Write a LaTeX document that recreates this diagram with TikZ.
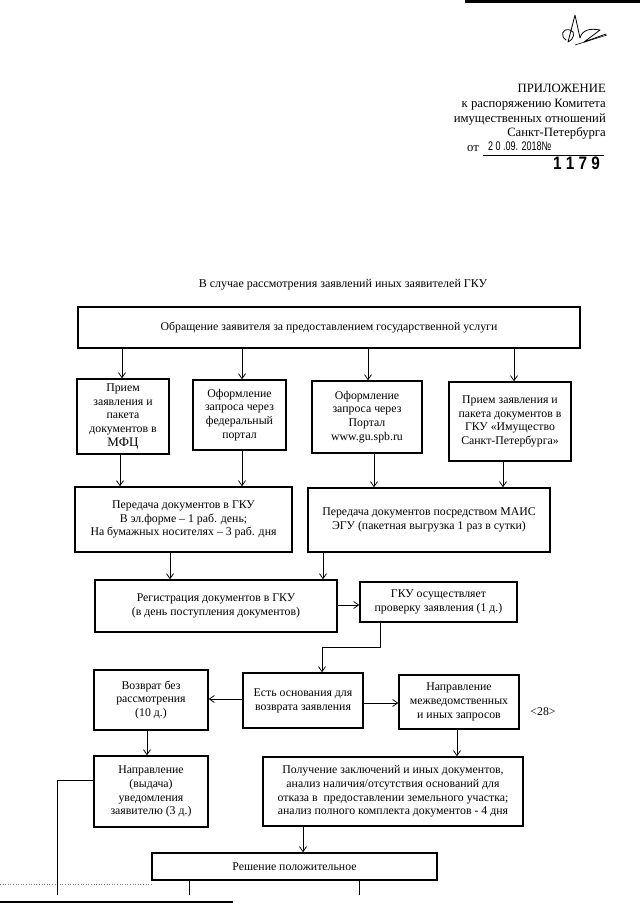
\documentclass[tikz,border=0pt]{standalone}
\usepackage{fontspec}
\setmainfont{Liberation Serif}
\newfontfamily\stampfont{Liberation Sans}
\usetikzlibrary{arrows.meta}
\newcommand{\fs}{\fontsize{11.8}{13.8}\selectfont}
\newcommand{\hs}{\fontsize{12.7}{14.5}\selectfont}
\tikzset{
  box/.style={draw, line width=1.5pt, align=center, inner sep=1pt, font=\fs},
  conn/.style={line width=0.75pt},
  arr/.style={conn, -{Straight Barb[length=5pt,width=7pt]}},
  hdr/.style={anchor=base east, inner sep=0pt, font=\hs},
}
\newcommand{\bx}[6]{\node[box, minimum width={#4-#2}, minimum height={#5-#3}] (#1) at ({(#2+#4)/2},{(#3+#5)/2}) {#6};}
\begin{document}
\begin{tikzpicture}[x=1pt,y=-1pt]
\useasboundingbox (0,0) rectangle (640,905);
\fill[white] (0,0) rectangle (640,905);
% scan edges
\draw[line width=3pt] (465,1.5) -- (640,1.5);
\draw[line width=2.5pt] (0,902) -- (233,902);
\draw[gray, dotted, line width=0.6pt] (0,884) -- (152,884);
% signature
\draw[line width=0.8pt, line cap=round, line join=round]
  (566,40) .. controls (560,36) and (562,28) .. (570,30)
  .. controls (576,31) and (574,40) .. (568,42)
  -- (575,15) -- (580,38)
  .. controls (582,30) and (590,28) .. (600,30)
  -- (584,42) -- (606,34);
\draw[line width=0.6pt] (575,45) -- (607,35);
% header
\node[hdr] (h1) at (606,92) {ПРИЛОЖЕНИЕ};
\node[hdr] (h2) at (606,107) {к распоряжению Комитета};
\node[hdr] (h3) at (606,122) {имущественных отношений};
\node[hdr] (h4) at (606,136) {Санкт-Петербурга};
\node[anchor=base west, inner sep=0pt, font=\hs] (h5) at (467,151) {от};
\node[anchor=base west, inner sep=0pt] (h6) at (488,150) {\stampfont\fontsize{12.5}{13}\selectfont\scalebox{0.72}[1]{2 0 .09. 2018№}};
\draw[line width=0.7pt] (483,155) -- (604,155);
\node[anchor=base east, inner sep=0pt] (h7) at (600,169) {\stampfont\bfseries\fontsize{18}{19}\selectfont\scalebox{0.85}[1]{1 1 7 9}};
% title
\node[font=\fontsize{12}{14}\selectfont] (title) at (343,285) {В случае рассмотрения заявлений иных заявителей ГКУ};
% boxes
\bx{b0}{78}{307}{580}{348}{Обращение заявителя за предоставлением государственной услуги}
\bx{A}{77}{379}{169}{454}{Прием\\заявления и\\пакета\\документов в\\{\fontsize{13}{14}\selectfont МФЦ}}
\bx{B}{193}{380}{286}{450}{Оформление\\запроса через\\федеральный\\портал}
\bx{C}{312}{381}{422}{453}{Оформление\\запроса через\\Портал\\www.gu.spb.ru}
\bx{D}{449}{382}{571}{461}{Прием заявления и\\пакета документов в\\ГКУ «Имущество\\Санкт-Петербурга»}
\bx{E}{75}{487}{292}{552}{Передача документов в ГКУ\\В эл.форме – 1 раб. день;\\На бумажных носителях – 3 раб. дня}
\bx{F}{308}{488}{550}{552}{Передача документов посредством МАИС\\ЭГУ (пакетная выгрузка 1 раз в сутки)}
\bx{G}{95}{580}{337}{632}{Регистрация документов в ГКУ\\(в день поступления документов)}
\bx{H}{360}{582}{517}{622}{ГКУ осуществляет\\проверку заявления (1 д.)}
\bx{I}{243}{673}{363}{728}{Есть основания для\\возврата заявления}
\bx{J}{94}{670}{208}{730}{Возврат без\\рассмотрения\\(10 д.)}
\bx{K}{399}{675}{519}{729}{Направление\\межведомственных\\и иных запросов}
\node[font=\fs, inner sep=0pt] (n28) at (543,712) {<28>};
\bx{L}{94}{756}{208}{827}{Направление\\(выдача)\\уведомления\\заявителю (3 д.)}
\bx{M}{263}{757}{523}{826}{Получение заключений и иных документов,\\анализ наличия/отсутствия оснований для\\отказа в~~предоставлении земельного участка;\\анализ полного комплекта документов - 4 дня}
\bx{N}{152}{853}{437}{880}{Решение положительное}
% connectors
\draw[arr] (b0.south -| 122,0) -- (A.north -| 122,0);
\draw[arr] (b0.south -| 242,0) -- (B.north -| 242,0);
\draw[arr] (b0.south -| 368,0) -- (C.north -| 368,0);
\draw[arr] (b0.south -| 514,0) -- (D.north -| 514,0);
\draw[arr] (A.south -| 120,0) -- (E.north -| 120,0);
\draw[arr] (B.south -| 242,0) -- (E.north -| 242,0);
\draw[arr] (C.south -| 374,0) -- (F.north -| 374,0);
\draw[arr] (D.south -| 503,0) -- (F.north -| 503,0);
\draw[arr] (E.south -| 170,0) -- (G.north -| 170,0);
\draw[arr] (F.south -| 323,0) -- (G.north -| 323,0);
\draw[arr] (G.east |- 0,605) -- (H.west |- 0,605);
\coordinate (hc1) at (380,647);
\coordinate (hc2) at (322,647);
\draw[arr] (H.south -| hc1) -- (hc1) -- (hc2) -- (I.north -| hc2);
\draw[arr] (I.west |- 0,699) -- (J.east |- 0,699);
\draw[arr] (I.east |- 0,703) -- (K.west |- 0,703);
\draw[arr] (J.south -| 147,0) -- (L.north -| 147,0);
\draw[arr] (K.south -| 457,0) -- (M.north -| 457,0);
\coordinate (lc1) at (57,780);
\coordinate (lc2) at (57,895);
\draw[conn] (L.west |- lc1) -- (lc1) -- (lc2);
\draw[arr] (M.south -| 303,0) -- (N.north -| 303,0);
\coordinate (nb1) at (189,895);
\coordinate (nb2) at (359,895);
\draw[conn] (N.south -| nb1) -- (nb1);
\draw[conn] (N.south -| nb2) -- (nb2);
\end{tikzpicture}
\end{document}
